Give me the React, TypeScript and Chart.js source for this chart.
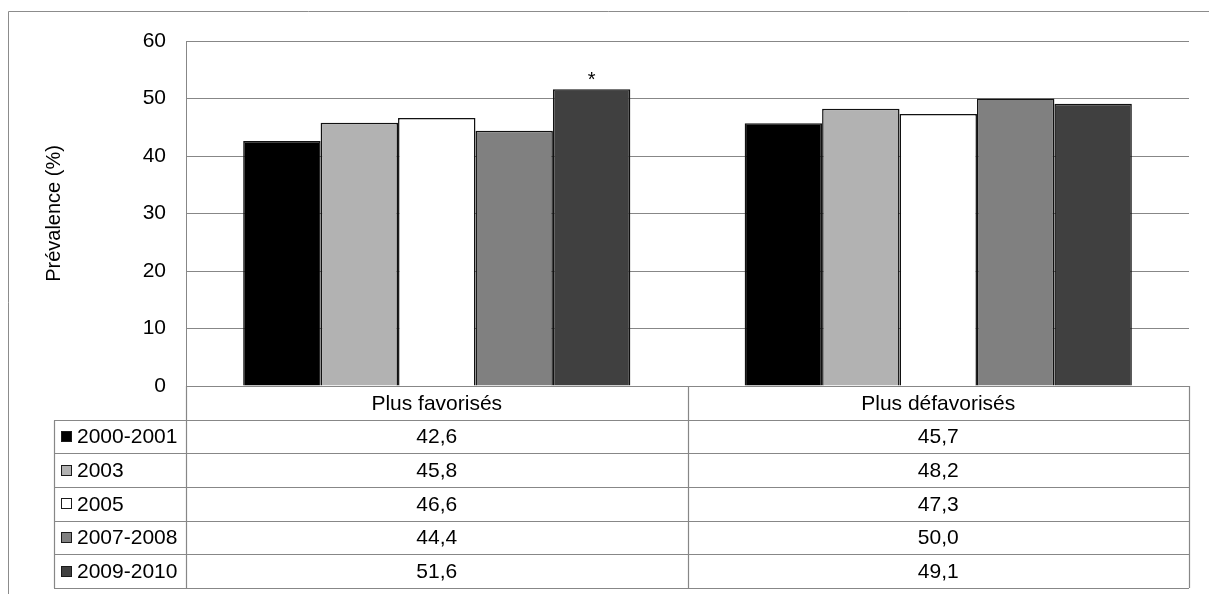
import React, { useEffect, useRef } from "react";
import { Chart, registerables } from "chart.js";

Chart.register(...registerables);

const categories = ["Plus favorisés", "Plus défavorisés"];
const seriesLabels = ["2000-2001", "2003", "2005", "2007-2008", "2009-2010"];
const values2000 = [42.6, 45.7];
const values2003 = [45.8, 48.2];
const values2005 = [46.6, 47.3];
const values2007 = [44.4, 50.0];
const values2009 = [51.6, 49.1];
const seriesValues = [values2000, values2003, values2005, values2007, values2009];
const seriesColors = ["#000000", "#b2b2b2", "#ffffff", "#808080", "#404040"];
const significance = [
  ["", ""],
  ["", ""],
  ["", ""],
  ["", ""],
  ["*", ""],
];
const yMin = 0;
const yMax = 60;
const yStep = 10;
const yTitle = "Prévalence (%)";

const FONT = '"Liberation Sans", Arial, sans-serif';
const GRID = "#878787";

const fmt = (v: number) => v.toFixed(1).replace(".", ",");

const tablePlugin = {
  id: "dataTable",
  beforeDraw(chart: any) {
    const ctx = chart.ctx;
    ctx.save();
    ctx.strokeStyle = "#8c8c8c";
    ctx.lineWidth = 1;
    ctx.beginPath();
    ctx.moveTo(8.5, chart.height);
    ctx.lineTo(8.5, 11.5);
    ctx.lineTo(chart.width, 11.5);
    ctx.stroke();
    ctx.restore();
  },
  afterDraw(chart: any) {
    const ctx = chart.ctx;
    const { left, right, bottom } = chart.chartArea;
    const xs = chart.scales.x;
    const n = categories.length;
    const catW = (right - left) / n;
    const rowH = 33.67;
    const legendLeft = 54;
    const rows = seriesLabels.length + 1;
    const tableBottom = bottom + rowH * rows;
    const px = (v: number) => Math.round(v) + 0.5;

    ctx.save();
    ctx.strokeStyle = GRID;
    ctx.lineWidth = 1.2;
    ctx.beginPath();
    for (let r = 1; r <= rows; r++) {
      const y = px(bottom + r * rowH);
      ctx.moveTo(legendLeft, y);
      ctx.lineTo(right, y);
    }
    ctx.moveTo(px(left), bottom);
    ctx.lineTo(px(left), tableBottom);
    ctx.moveTo(px(legendLeft), px(bottom + rowH));
    ctx.lineTo(px(legendLeft), tableBottom);
    for (let i = 0; i < n; i++) {
      const xr = xs.getPixelForValue(i) + catW / 2;
      ctx.moveTo(px(xr), bottom);
      ctx.lineTo(px(xr), tableBottom);
    }
    ctx.stroke();

    ctx.fillStyle = "#000";
    ctx.font = `21px ${FONT}`;
    ctx.textBaseline = "middle";
    ctx.textAlign = "center";
    for (let i = 0; i < n; i++) {
      const cx = xs.getPixelForValue(i);
      ctx.fillText(categories[i], cx, bottom + rowH / 2 + 1);
      for (let s = 0; s < seriesLabels.length; s++) {
        const cy = bottom + rowH * (s + 1.5) + 1;
        ctx.fillText(fmt(seriesValues[s][i]), cx, cy);
      }
    }
    ctx.textAlign = "left";
    ctx.lineWidth = 1;
    for (let s = 0; s < seriesLabels.length; s++) {
      const cy = bottom + rowH * (s + 1.5);
      ctx.fillStyle = seriesColors[s];
      ctx.fillRect(61, Math.round(cy - 5.5), 11, 11);
      ctx.strokeStyle = "#1a1a1a";
      ctx.strokeRect(61.5, Math.round(cy - 5.5) + 0.5, 10, 10);
      ctx.fillStyle = "#000";
      ctx.fillText(seriesLabels[s], 77, cy + 1);
    }

    ctx.textAlign = "center";
    ctx.textBaseline = "alphabetic";
    ctx.font = `20px ${FONT}`;
    for (let s = 0; s < significance.length; s++) {
      const meta = chart.getDatasetMeta(s);
      for (let i = 0; i < n; i++) {
        const mark = significance[s][i];
        if (!mark) continue;
        const bar = meta.data[i];
        ctx.fillText(mark, bar.x, bar.y - 3);
      }
    }
    ctx.restore();
  },
};

export default function App() {
  const ref = useRef<HTMLCanvasElement>(null);
  useEffect(() => {
    if (!ref.current) return;
    const chart = new Chart(ref.current, {
      type: "bar",
      data: {
        labels: categories,
        datasets: seriesLabels.map((label, s) => ({
          label,
          data: seriesValues[s],
          backgroundColor: seriesColors[s],
          borderColor: "#111111",
          borderWidth: 1.5,
          barPercentage: 1,
          categoryPercentage: 0.772,
        })),
      },
      options: {
        animation: false,
        responsive: false,
        devicePixelRatio: 1,
        layout: { padding: { left: 0, top: 41, right: 20, bottom: 208 } },
        plugins: {
          legend: { display: false },
          tooltip: { enabled: false },
        },
        scales: {
          x: {
            type: "category",
            display: false,
            grid: { display: false },
          },
          y: {
            min: yMin,
            max: yMax,
            afterFit: (scale: any) => {
              scale.width = 186;
            },
            ticks: {
              stepSize: yStep,
              color: "#000",
              font: { family: FONT, size: 21 },
              padding: 20,
            },
            grid: { color: GRID, lineWidth: 1, drawTicks: false },
            border: { display: true, color: GRID, width: 1 },
            title: {
              display: true,
              text: yTitle,
              color: "#000",
              font: { family: FONT, size: 20 },
              padding: { top: 42, bottom: 0 },
            },
          },
        },
      },
      plugins: [tablePlugin],
    });
    return () => chart.destroy();
  }, []);
  return (
    <div style={{ position: "fixed", left: 0, top: 0, width: 1209, height: 594, background: "#fff" }}>
      <canvas ref={ref} width={1209} height={594} style={{ display: "block", width: 1209, height: 594 }} />
    </div>
  );
}
